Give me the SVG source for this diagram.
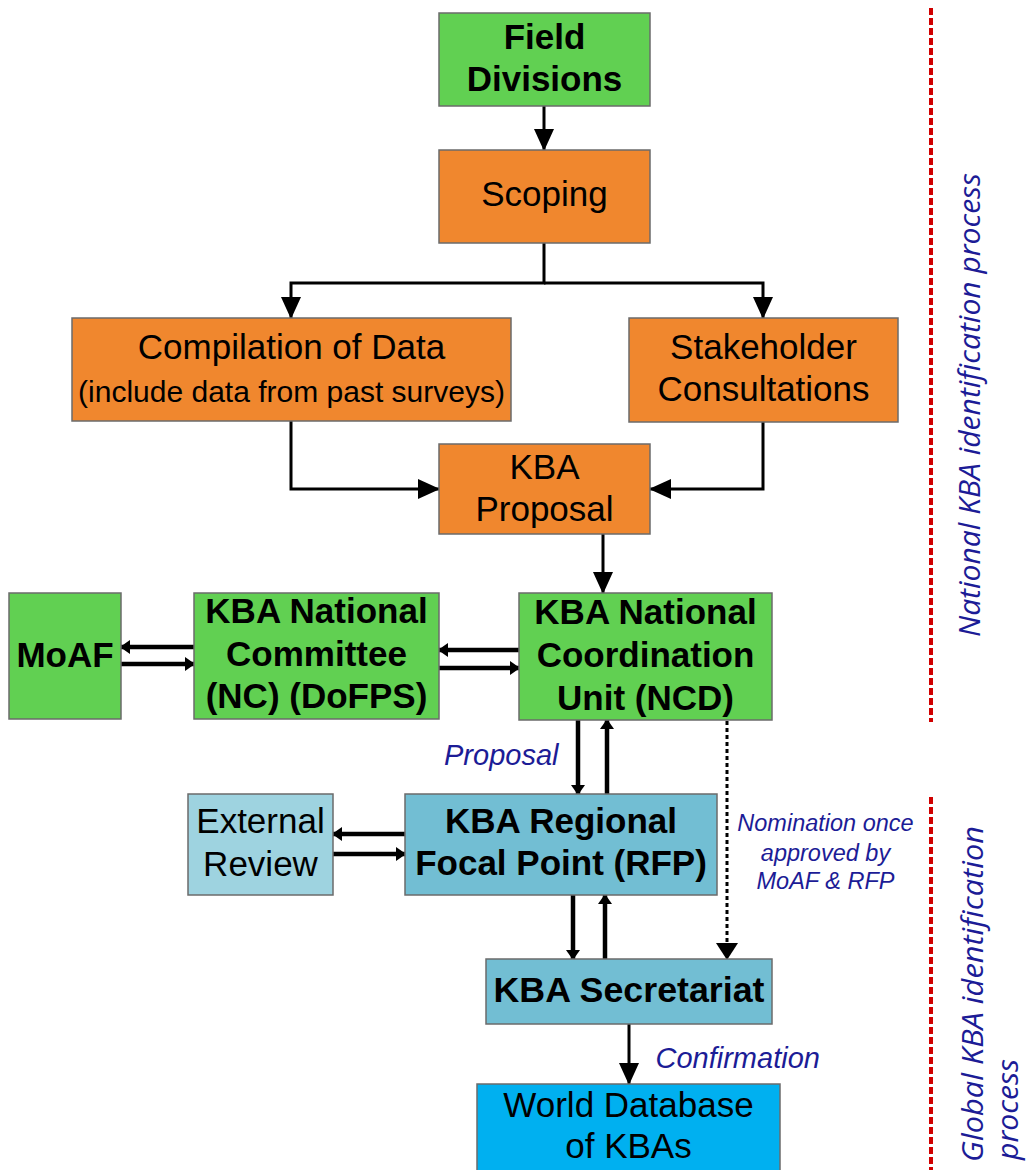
<svg xmlns="http://www.w3.org/2000/svg" width="1031" height="1170" viewBox="0 0 1031 1170">
<defs>
<style>
.box{stroke:#6b6b6b;stroke-width:1.5}
.green{fill:#61D052}
.orange{fill:#F0872E}
.teal{fill:#72BED3}
.light{fill:#9ED3E0}
.cyan{fill:#00B0F0}
.t{font-family:"Liberation Sans",Arial,sans-serif;font-size:35px;fill:#000;text-anchor:middle}
.b{font-weight:bold}
.lab{font-family:"Liberation Sans",Arial,sans-serif;font-style:italic;fill:#1C1C96}
.side{font-family:"Open Sans","Noto Sans",sans-serif;font-style:italic;font-size:30px;fill:#1C1C96}
.main{fill:none;stroke:#000;stroke-width:3}
.thick{fill:none;stroke:#000;stroke-width:4.5}
.dot{fill:none;stroke:#000;stroke-width:3;stroke-dasharray:4 3}
.red{fill:none;stroke:#D00000;stroke-width:4;stroke-dasharray:7 3}
</style>
<marker id="big" markerUnits="userSpaceOnUse" markerWidth="22" markerHeight="20" refX="21" refY="10" orient="auto"><path d="M0,0 L22,10 L0,20 z" fill="#000"/></marker>
<marker id="small" markerUnits="userSpaceOnUse" markerWidth="10" markerHeight="14" refX="9" refY="7" orient="auto"><path d="M0,0 L10,7 L0,14 z" fill="#000"/></marker>
<marker id="dotm" markerUnits="userSpaceOnUse" markerWidth="17" markerHeight="22" refX="16" refY="11" orient="auto"><path d="M0,0 L17,11 L0,22 z" fill="#000"/></marker>
</defs>
<rect width="1031" height="1170" fill="#fff"/>

<g id="connectors">
<path class="main" d="M544,106 V150" marker-end="url(#big)"/>
<path class="main" d="M544,243 V283 H291 V318" marker-end="url(#big)"/>
<path class="main" d="M544,283 H763 V318" marker-end="url(#big)"/>
<path class="main" d="M291,421 V489 H439" marker-end="url(#big)"/>
<path class="main" d="M763,422 V489 H650" marker-end="url(#big)"/>
<path class="main" d="M603,534 V593" marker-end="url(#big)"/>
<path class="thick" d="M194,647 H121" marker-end="url(#small)"/>
<path class="thick" d="M121,664 H194" marker-end="url(#small)"/>
<path class="thick" d="M519,650 H439" marker-end="url(#small)"/>
<path class="thick" d="M439,668 H519" marker-end="url(#small)"/>
<path class="thick" d="M578,720 V794" marker-end="url(#small)"/>
<path class="thick" d="M607,794 V720" marker-end="url(#small)"/>
<path class="thick" d="M405,834 H333" marker-end="url(#small)"/>
<path class="thick" d="M333,854 H405" marker-end="url(#small)"/>
<path class="thick" d="M573,895 V959" marker-end="url(#small)"/>
<path class="thick" d="M605,959 V895" marker-end="url(#small)"/>
<path class="dot" d="M727,721 V959" marker-end="url(#dotm)"/>
<path class="main" d="M629,1024 V1084" marker-end="url(#big)"/>
</g>

<g id="field-divisions">
<rect class="box green" x="439" y="13" width="211" height="93"/>
<text class="t b" x="544.5" y="49">Field</text>
<text class="t b" x="544.5" y="91">Divisions</text>
</g>
<g id="scoping">
<rect class="box orange" x="439" y="150" width="211" height="93"/>
<text class="t" x="544.5" y="206">Scoping</text>
</g>
<g id="compilation">
<rect class="box orange" x="72" y="318" width="439" height="103"/>
<text class="t" x="291.5" y="359">Compilation of Data</text>
<text class="t" x="291.5" y="402" style="font-size:30px">(include data from past surveys)</text>
</g>
<g id="stakeholder">
<rect class="box orange" x="629" y="318" width="269" height="104"/>
<text class="t" x="763.5" y="359">Stakeholder</text>
<text class="t" x="763.5" y="401">Consultations</text>
</g>
<g id="kba-proposal">
<rect class="box orange" x="439" y="444" width="211" height="90"/>
<text class="t" x="544.5" y="479">KBA</text>
<text class="t" x="544.5" y="521">Proposal</text>
</g>
<g id="moaf">
<rect class="box green" x="9" y="593" width="112" height="126"/>
<text class="t b" x="65" y="667">MoAF</text>
</g>
<g id="nc">
<rect class="box green" x="194" y="593" width="245" height="126"/>
<text class="t b" x="316.5" y="623">KBA National</text>
<text class="t b" x="316.5" y="666">Committee</text>
<text class="t b" x="316.5" y="708">(NC) (DoFPS)</text>
</g>
<g id="ncd">
<rect class="box green" x="519" y="593" width="253" height="127"/>
<text class="t b" x="645.5" y="624">KBA National</text>
<text class="t b" x="645.5" y="667">Coordination</text>
<text class="t b" x="645.5" y="710">Unit (NCD)</text>
</g>
<g id="external-review">
<rect class="box light" x="188" y="794" width="145" height="101"/>
<text class="t" x="260.5" y="833">External</text>
<text class="t" x="260.5" y="876">Review</text>
</g>
<g id="rfp">
<rect class="box teal" x="405" y="794" width="312" height="101"/>
<text class="t b" x="561" y="833">KBA Regional</text>
<text class="t b" x="561" y="875">Focal Point (RFP)</text>
</g>
<g id="secretariat">
<rect class="box teal" x="486" y="959" width="286" height="65"/>
<text class="t b" x="629" y="1002" textLength="271" lengthAdjust="spacingAndGlyphs">KBA Secretariat</text>
</g>
<g id="world-db">
<rect class="box cyan" x="477" y="1084" width="303" height="100"/>
<text class="t" x="628.5" y="1117">World Database</text>
<text class="t" x="628.5" y="1158">of KBAs</text>
</g>

<g id="labels">
<text class="lab" x="444" y="765" style="font-size:29px">Proposal</text>
<text class="lab" x="655.5" y="1068" style="font-size:29px">Confirmation</text>
<text class="lab" x="825.5" y="831" style="font-size:23.5px;text-anchor:middle">Nomination once</text>
<text class="lab" x="825.5" y="861" style="font-size:23.5px;text-anchor:middle">approved by</text>
<text class="lab" x="825.5" y="889" style="font-size:23.5px;text-anchor:middle">MoAF &amp; RFP</text>
</g>

<g id="process-divider">
<path class="red" d="M931,8 V722"/>
<path class="red" d="M931,797 V1170"/>
<text class="side" transform="translate(980,405) rotate(-90)" text-anchor="middle" textLength="464" lengthAdjust="spacingAndGlyphs">National KBA identification process</text>
<text class="side" transform="translate(983,1162) rotate(-90)" textLength="336" lengthAdjust="spacingAndGlyphs">Global KBA identification</text>
<text class="side" transform="translate(1018,1160) rotate(-90)" textLength="101" lengthAdjust="spacingAndGlyphs">process</text>
</g>
</svg>
